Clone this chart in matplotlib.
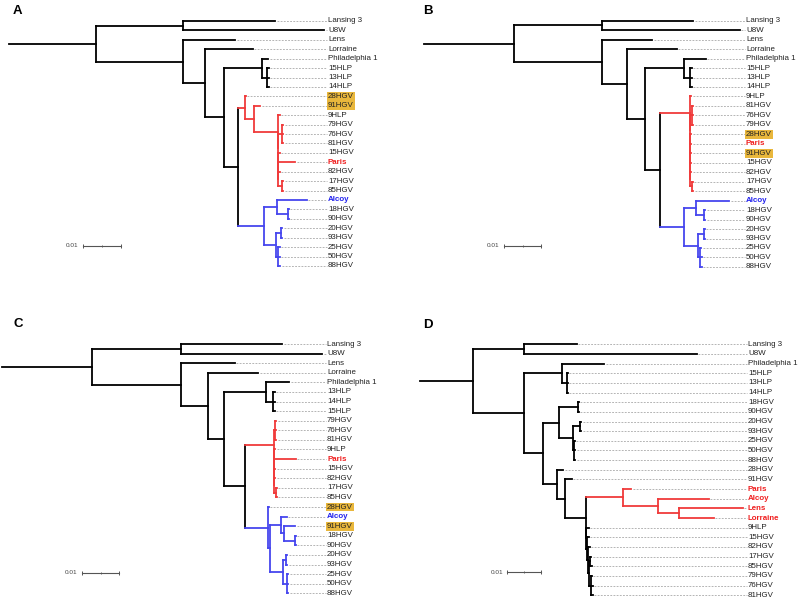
import matplotlib
matplotlib.use("Agg")
import matplotlib.pyplot as plt

plt.rcParams['font.family'] = ['Liberation Sans', 'DejaVu Sans']

# trees in newick, branch lengths in 1e-3 substitutions/site
TREE_A = (
    "((Lansing 3:24.2,U8W:37.1):22.9,"
    "(Lens:13.7,(Lorraine:12.6,("
    "(Philadelphia 1:1.6,(15HLP:0.5,13HLP:0.4,14HLP:0.5):1.3):10.0,"
    "((28HGV:0.2,(91HGV:1.6,(9HLP:0.5,((79HGV:0.3,76HGV:0.3,81HGV:0.3):1.0,"
    "(15HGV:0.5,(Paris:4.5,(82HGV:0.5,(17HGV:0.3,85HGV:0.3):1.0):0):0):0):0):6.3):2.4):1.8,"
    "((Alcoy:7.9,(18HGV:0.2,90HGV:0.2):2.9):3.4,"
    "((20HGV:0.3,93HGV:0.3):1.3,(25HGV:0.4,50HGV:0.5,88HGV:0.6):0.5):3.2):6.8"
    "):3.7):5.0):5.8):22.9):22.9;"
)
TREE_B = (
    "((Lansing 3:24.4,U8W:36.9):23.7,"
    "(Lens:13.4,(Lorraine:13.2,("
    "(Philadelphia 1:5.8,(15HLP:0.4,13HLP:0.4,14HLP:0.4):1.7):10.5,"
    "((9HLP:0.3,((81HGV:0.3,76HGV:0.3,79HGV:0.3):0.6,(28HGV:0.3,(Paris:0.3,(91HGV:0.3,"
    "(15HGV:0.3,(82HGV:0.3,(17HGV:0.2,85HGV:0.3):0.6):0):0):0):0):0):0):7.9,"
    "((Alcoy:9.0,(18HGV:0.2,90HGV:0.2):2.3):3.1,"
    "((20HGV:0.2,93HGV:0.2):1.7,(25HGV:0.3,50HGV:0.4,88HGV:0.4):0.6):3.6):6.4"
    "):4.2):4.7):6.7):23.7):24.1;"
)
TREE_C = (
    "((Lansing 3:27.1,U8W:37.8):24.1,"
    "(Lens:14.3,(Lorraine:13.6,("
    "(Philadelphia 1:6.3,(13HLP:0.4,14HLP:0.4,15HLP:0.4):2.0):11.1,"
    "(((79HGV:0.3,76HGV:0.3,81HGV:0.3):0.3,(9HLP:0.3,(Paris:5.8,(15HGV:0.3,"
    "(82HGV:0.3,(17HGV:0.3,85HGV:0.3):0.5):0):0):0):0):7.8,"
    "(28HGV:0.2,((Alcoy:1.5,(91HGV:2.9,(18HGV:0.2,90HGV:0.2):2.9):0.9):2.9,"
    "((20HGV:0.3,93HGV:0.3):0.9,(25HGV:0.3,50HGV:0.4,88HGV:0.4):1.1):3.4):0.6):6.2"
    "):5.5):4.5):7.0):24.1):24.0;"
)
TREE_D = (
    "((Lansing 3:15.4,U8W:50.7):15.2,"
    "((Philadelphia 1:12.3,(15HLP:0.3,13HLP:0.3,14HLP:0.3):1.3):11.2,"
    "(((18HGV:0.3,90HGV:0.3):5.4,((20HGV:0.3,93HGV:0.3):2.1,(25HGV:0.3,50HGV:0.4,88HGV:0.4):0.3):4.0):4.9,"
    "(28HGV:1.8,(91HGV:2.0,((Paris:2.4,(Alcoy:14.9,(Lens:18.9,Lorraine:10.3):6.1):10.3):10.9,"
    "(9HLP:0.9,(15HGV:0.5,(82HGV:0.5,((17HGV:0.3,85HGV:0.5):0.4,"
    "(79HGV:0.3,76HGV:0.5,81HGV:0.6):0.6):0.2):0.3):0.4):0):6.1):2.3):4.3"
    "):5.4):15.2):15.5;"
)

# coloured clades
RED_A = ['28HGV', '91HGV', '9HLP', '79HGV', '76HGV', '81HGV', '15HGV', 'Paris', '82HGV', '17HGV', '85HGV']
BLUE_A = ['Alcoy', '18HGV', '90HGV', '20HGV', '93HGV', '25HGV', '50HGV', '88HGV']
RED_B = RED_A
BLUE_B = BLUE_A
RED_C = ['79HGV', '76HGV', '81HGV', '9HLP', 'Paris', '15HGV', '82HGV', '17HGV', '85HGV']
BLUE_C = ['28HGV', 'Alcoy', '91HGV', '18HGV', '90HGV', '20HGV', '93HGV', '25HGV', '50HGV', '88HGV']
RED_D = ['Paris', 'Alcoy', 'Lens', 'Lorraine']
BLUE_D = []

# highlighted / coloured tip labels
HILITE_ABC = ['28HGV', '91HGV']
RED_LABELS_ABC = ['Paris']
BLUE_LABELS_ABC = ['Alcoy']
RED_LABELS_D = ['Paris', 'Alcoy', 'Lens', 'Lorraine']

RED = '#f03a3a'
BLUE = '#4646ee'
GOLD = '#e9b73c'


def parse(s):
    pos = 0

    def node():
        nonlocal pos
        kids = []
        if s[pos] == '(':
            pos += 1
            kids.append(node())
            while s[pos] == ',':
                pos += 1
                kids.append(node())
            pos += 1
        start = pos
        while s[pos] not in ',():;':
            pos += 1
        name = s[start:pos].strip()
        length = 0.0
        if s[pos] == ':':
            pos += 1
            start = pos
            while s[pos] not in ',();':
                pos += 1
            length = float(s[start:pos])
        return {'name': name, 'len': length, 'kids': kids}
    return node()


def layout(nd, x0, tips):
    nd['x'] = x0 + nd['len']
    if nd['kids']:
        for k in nd['kids']:
            layout(k, nd['x'], tips)
        nd['y'] = (nd['kids'][0]['y'] + nd['kids'][-1]['y']) / 2
        nd['tips'] = set().union(*[k['tips'] for k in nd['kids']])
    else:
        nd['y'] = len(tips)
        nd['tips'] = {nd['name']}
        tips.append(nd)


def draw(ax, nd, px, color, clades):
    for tipset, c in clades:
        if nd['tips'] == tipset:
            color = c
    ax.plot([px, nd['x']], [nd['y'], nd['y']], color=color, lw=1.3)
    if nd['kids']:
        ax.plot([nd['x'], nd['x']], [nd['kids'][0]['y'], nd['kids'][-1]['y']], color=color, lw=1.3)
        for k in nd['kids']:
            draw(ax, k, nd['x'], color, clades)


fig = plt.figure(figsize=(8, 6.01), dpi=100)
W, H = 800.0, 601.0

# letter, tree, red, blue, hilite, red labels, blue labels,
# panel box (px), root px, px per unit, first tip px, row px, label px, scale bar px, letter px
panels = [
    ('A', TREE_A, RED_A, BLUE_A, HILITE_ABC, RED_LABELS_ABC, BLUE_LABELS_ABC,
     (0, 0, 400, 300), 9, 3.8, 21, 9.42, 328, (83, 245.5), (13, 10.5)),
    ('B', TREE_B, RED_B, BLUE_B, HILITE_ABC, RED_LABELS_ABC, BLUE_LABELS_ABC,
     (400, 0, 800, 300), 424, 3.73, 20.7, 9.47, 746, (504, 245.7), (423, 10.5)),
    ('C', TREE_C, RED_C, BLUE_C, HILITE_ABC, RED_LABELS_ABC, BLUE_LABELS_ABC,
     (0, 300, 400, 601), 2, 3.73, 344, 9.59, 327, (82, 572.7), (13, 324)),
    ('D', TREE_D, RED_D, BLUE_D, [], RED_LABELS_D, [],
     (400, 300, 800, 601), 420, 3.4, 344.3, 9.65, 748, (507, 572.3), (423, 325)),
]

for (letter, newick, red, blue, hilite, red_lab, blue_lab,
     box, root_px, ppu, top, sp, label_px, sbar, lpos) in panels:
    X0, Y0, X1, Y1 = box
    ax = fig.add_axes([X0 / W, 1 - Y1 / H, (X1 - X0) / W, (Y1 - Y0) / H])
    ax.set_xlim((X0 - root_px) / ppu, (X1 - root_px) / ppu)
    ax.set_ylim((Y1 - top) / sp, (Y0 - top) / sp)
    ax.axis('off')

    tree = parse(newick)
    tips = []
    layout(tree, 0.0, tips)
    clades = []
    if red:
        clades.append((set(red), RED))
    if blue:
        clades.append((set(blue), BLUE))
    draw(ax, tree, 0.0, 'black', clades)

    lx = (label_px - root_px) / ppu
    for t in tips:
        ax.plot([t['x'] + 0.4, lx - 0.3], [t['y'], t['y']], color='#a8a8a8', lw=0.6,
                linestyle=(0, (2.2, 1.6)))
        kw = dict(fontsize=5.7, va='center', ha='left', color='#222222')
        if t['name'] in red_lab:
            kw.update(color='#f01e1e', fontweight='bold')
        elif t['name'] in blue_lab:
            kw.update(color='#2020ee', fontweight='bold')
        if t['name'] in hilite:
            kw['bbox'] = dict(boxstyle='square,pad=0.12', fc=GOLD, ec='none')
        ax.text(lx, t['y'], t['name'], **kw)

    # scale bar 0.01
    sx = (sbar[0] - root_px) / ppu
    sy = (sbar[1] - top) / sp
    ax.plot([sx, sx + 10], [sy, sy], color='#555555', lw=0.8)
    ax.plot([sx, sx + 10], [sy, sy], linestyle='none', marker='|', ms=3, mew=0.7, color='#555555')
    ax.plot([sx + 5], [sy], linestyle='none', marker='|', ms=1.5, mew=0.6, color='#555555')
    ax.text(sx - 1.2, sy, '0.01', fontsize=4.6, ha='right', va='center', color='#444444')

    fig.text(lpos[0] / W, 1 - lpos[1] / H, letter, fontsize=9.5, fontweight='bold',
             ha='left', va='center')

fig.savefig('out.png', dpi=100)
